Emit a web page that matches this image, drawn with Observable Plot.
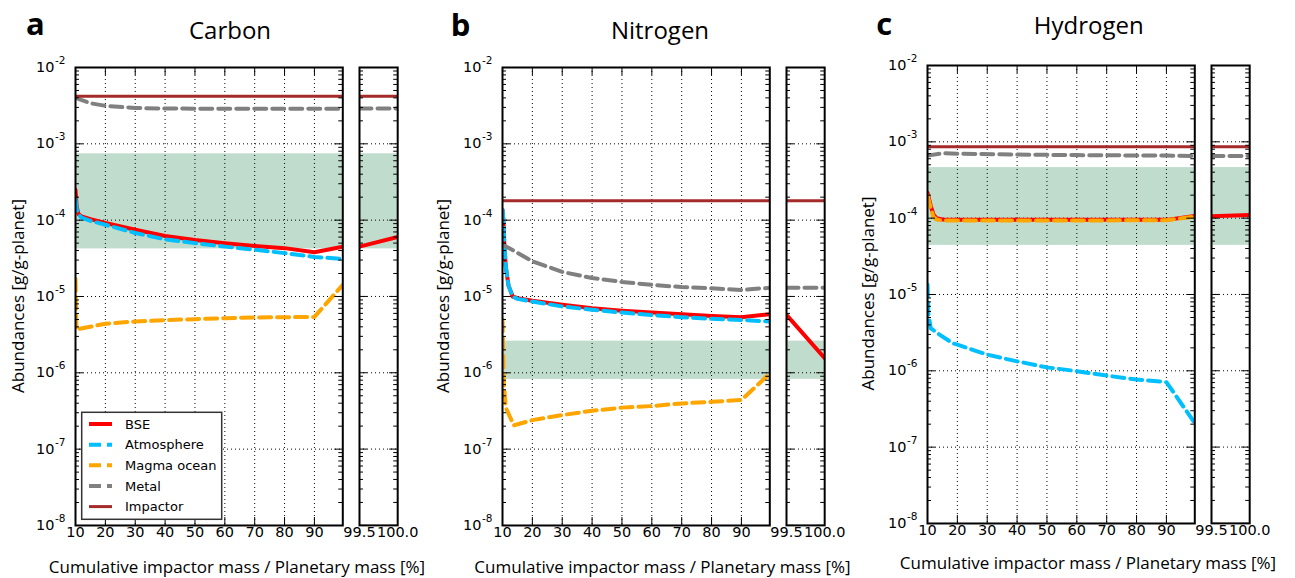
<!DOCTYPE html>
<html><head><meta charset="utf-8">
<script src="https://cdn.jsdelivr.net/npm/d3@7"></script>
<script src="https://cdn.jsdelivr.net/npm/@observablehq/plot@0.6"></script>
<style>
html,body{margin:0;padding:0;background:#fff;}
#root{position:relative;width:1295px;height:578px;overflow:hidden;}
#root svg{position:absolute;overflow:visible;}
</style></head><body><div id="root"></div>
<script>
// ---------- axis values ----------
const decades = [1e-8, 1e-7, 1e-6, 1e-5, 1e-4, 1e-3, 1e-2];
const minorTicks = [];
for (let e = -8; e < -2; e++) for (let m = 2; m <= 9; m++) minorTicks.push(m * Math.pow(10, e));
const mainTicks = [10, 20, 30, 40, 50, 60, 70, 80, 90];
const mainGrid = [20, 30, 40, 50, 60, 70, 80, 90];
const breakTicks = [99.5, 100];
const mainDomain = [10, 99.5];
const breakDomain = [99.5, 100];

// ---------- Carbon ----------
const carbonBSE = [[10,2.5e-4],[10.4,1.5e-4],[11,1.2e-4],[12,1.12e-4],[15,1.03e-4],[20,9.2e-5],[30,7.5e-5],[40,6.2e-5],[50,5.5e-5],[60,5.0e-5],[70,4.6e-5],[80,4.3e-5],[90,3.8e-5],[99.5,4.5e-5]];
const carbonBSEBreak = [[99.5,4.5e-5],[100,6.0e-5]];
const carbonAtmosphere = [[10,1.9e-4],[10.4,1.4e-4],[11,1.2e-4],[12,1.08e-4],[15,9.8e-5],[20,8.7e-5],[30,6.8e-5],[40,5.6e-5],[50,5.0e-5],[60,4.5e-5],[70,4.1e-5],[80,3.7e-5],[90,3.3e-5],[99.5,3.1e-5]];
const carbonMagma = [[10,1.7e-5],[10.3,3.7e-6],[20,4.4e-6],[30,4.7e-6],[40,4.9e-6],[50,5.05e-6],[60,5.2e-6],[70,5.3e-6],[80,5.35e-6],[90,5.4e-6],[99.5,1.42e-5]];
const carbonMetal = [[10,4.0e-3],[15,3.4e-3],[20,3.15e-3],[30,2.95e-3],[40,2.9e-3],[60,2.88e-3],[90,2.88e-3],[99.5,2.88e-3]];
const carbonMetalBreak = [[99.5,2.9e-3],[100,2.9e-3]];
const carbonImpactor = 4.2e-3;
const carbonBand = [4.2e-5, 7.4e-4];

// ---------- Nitrogen ----------
const nitrogenBSE = [[10,1.37e-4],[10.3,1.0e-4],[10.6,5e-5],[11.1,2.45e-5],[12,1.4e-5],[13.4,1.0e-5],[15,9.5e-6],[20,8.8e-6],[30,7.8e-6],[40,7.0e-6],[50,6.5e-6],[60,6.15e-6],[70,5.87e-6],[80,5.56e-6],[90,5.36e-6],[99.5,5.87e-6]];
const nitrogenBSEBreak = [[99.5,5.74e-6],[100,1.55e-6]];
const nitrogenAtmosphere = [[10,1.37e-4],[10.3,1.0e-4],[10.6,5e-5],[11.1,2.45e-5],[12,1.4e-5],[13.4,1.0e-5],[15,9.3e-6],[20,8.6e-6],[30,7.4e-6],[40,6.7e-6],[50,6.15e-6],[60,5.7e-6],[70,5.36e-6],[80,5.1e-6],[90,4.93e-6],[99.5,4.7e-6]];
const nitrogenMagma = [[10,5e-6],[10.4,8e-7],[11.1,3.5e-7],[13.8,2.05e-7],[20,2.4e-7],[30,2.8e-7],[40,3.18e-7],[50,3.5e-7],[60,3.67e-7],[70,3.97e-7],[80,4.17e-7],[90,4.4e-7],[99.5,9.8e-7]];
const nitrogenMetal = [[10,4.8e-5],[20,2.9e-5],[30,2.1e-5],[40,1.75e-5],[50,1.55e-5],[60,1.42e-5],[70,1.33e-5],[80,1.28e-5],[90,1.22e-5],[99.5,1.3e-5]];
const nitrogenMetalBreak = [[99.5,1.3e-5],[100,1.3e-5]];
const nitrogenImpactor = 1.8e-4;
const nitrogenBand = [8.2e-7, 2.6e-6];

// ---------- Hydrogen ----------
const hydrogenBSE = [[10,2.15e-4],[11.1,1.44e-4],[12,1.12e-4],[13,1.0e-4],[15,9.6e-5],[20,9.5e-5],[50,9.5e-5],[90,9.5e-5],[99.5,1.07e-4]];
const hydrogenBSEBreak = [[99.5,1.06e-4],[100,1.1e-4]];
const hydrogenAtmosphere = [[10,1.35e-5],[10.3,5.5e-6],[11.1,3.6e-6],[13.9,3.0e-6],[18.4,2.3e-6],[20,2.2e-6],[30,1.63e-6],[40,1.33e-6],[50,1.11e-6],[60,9.9e-7],[70,8.65e-7],[80,7.7e-7],[90,7.1e-7],[99.5,2.07e-7]];
const hydrogenMagma = [[10,2.0e-4],[11.1,1.35e-4],[12,1.05e-4],[13,9.6e-5],[15,9.3e-5],[20,9.3e-5],[50,9.3e-5],[90,9.4e-5],[99.5,1.05e-4]];
const hydrogenMetal = [[10,6.6e-4],[15,7.1e-4],[20,7.0e-4],[40,6.8e-4],[60,6.7e-4],[90,6.6e-4],[99.5,6.5e-4]];
const hydrogenMetalBreak = [[99.5,6.5e-4],[100,6.5e-4]];
const hydrogenImpactor = 8.6e-4;
const hydrogenBand = [4.4e-5, 4.6e-4];

// ---------- labels ----------
const seriesNames = ["BSE", "Atmosphere", "Magma ocean", "Metal", "Impactor"];
const panelLetters = ["a", "b", "c"];
const panelTitles = ["Carbon", "Nitrogen", "Hydrogen"];
const yLabel = "Abundances [g/g-planet]";
const xLabel = "Cumulative impactor mass / Planetary mass [%]";

// ---------- styles ----------
const C = {bse: "#ff0000", atm: "#00bfff", magma: "#ffa500", metal: "#808080", imp: "#a52a2a"};
const DASH = "12,6";
const TICKFONT = "DejaVu Sans";

const panels = [
  {left: 75, top: 67, bse: carbonBSE, bseB: carbonBSEBreak, atm: carbonAtmosphere, magma: carbonMagma, metal: carbonMetal, metalB: carbonMetalBreak, imp: carbonImpactor, band: carbonBand,
   letter: [26, 35], title: [230, 39.3], ylab: [24, 296], xlab: [237, 572.5]},
  {left: 501.7, top: 67, bse: nitrogenBSE, bseB: nitrogenBSEBreak, atm: nitrogenAtmosphere, magma: nitrogenMagma, metal: nitrogenMetal, metalB: nitrogenMetalBreak, imp: nitrogenImpactor, band: nitrogenBand,
   letter: [450.7, 36], title: [660, 39.3], ylab: [449, 296], xlab: [662.5, 572.5]},
  {left: 926.7, top: 64.5, bse: hydrogenBSE, bseB: hydrogenBSEBreak, atm: hydrogenAtmosphere, magma: hydrogenMagma, metal: hydrogenMetal, metalB: hydrogenMetalBreak, imp: hydrogenImpactor, band: hydrogenBand,
   letter: [876.3, 35], title: [1088.8, 34.3], ylab: [874, 293.5], xlab: [1088, 569]}
];

const W_MAIN = 267.3, W_BREAK = 38.2, GAP = 16.5, H = 458;
const root = document.getElementById("root");

function line(data, stroke, sw, dash) {
  return Plot.line(data, {x: d => d[0], y: d => d[1], stroke, strokeWidth: sw, strokeDasharray: dash, clip: true});
}

function subplot({x0, y0, W, domain, band, imp, lines, main}) {
  const mL = main ? 60 : 12, mR = 10, mT = 14, mB = 30;
  const marks = [
    Plot.rect([band], {x1: () => domain[0], x2: () => domain[1], y1: d => d[0], y2: d => d[1], fill: "#2e8b57", fillOpacity: 0.3}),
    Plot.ruleY(decades.slice(1, -1), {y: d => d, stroke: "black", strokeWidth: 1, strokeDasharray: "1,3"})
  ];
  if (main) marks.push(Plot.ruleX(mainGrid, {x: d => d, stroke: "black", strokeWidth: 1, strokeDasharray: "1,3"}));
  for (const l of lines) marks.push(l);
  marks.push(Plot.ruleY([imp], {y: d => d, stroke: C.imp, strokeWidth: 3}));
  marks.push(Plot.tickY(minorTicks, {y: d => d, insetRight: W - 4, stroke: "black"}));
  marks.push(Plot.tickY(minorTicks, {y: d => d, insetLeft: W - 4, stroke: "black"}));
  marks.push(Plot.tickY(decades, {y: d => d, insetRight: W - 8, stroke: "black"}));
  marks.push(Plot.tickY(decades, {y: d => d, insetLeft: W - 8, stroke: "black"}));
  if (main) {
    marks.push(Plot.tickX(mainTicks, {x: d => d, insetTop: H - 8, stroke: "black"}));
    marks.push(Plot.tickX(mainTicks, {x: d => d, insetBottom: H - 8, stroke: "black"}));
  }
  marks.push(Plot.frame({stroke: "black", strokeWidth: 2}));
  if (main) {
    marks.push(Plot.text(decades, {y: d => d, text: () => "10", frameAnchor: "left", textAnchor: "end", dx: -21, fontSize: 14.5, fontFamily: TICKFONT, fill: "black"}));
    marks.push(Plot.text(decades, {y: d => d, text: d => "-" + Math.round(-Math.log10(d)), frameAnchor: "left", textAnchor: "end", dx: -10, dy: -7, fontSize: 10.5, fontFamily: TICKFONT, fill: "black"}));
    marks.push(Plot.text(mainTicks, {x: d => d, text: d => String(d), frameAnchor: "bottom", dy: 12, fontSize: 14.5, fontFamily: TICKFONT, fill: "black"}));
  } else {
    marks.push(Plot.text(breakTicks, {x: d => d, text: d => d.toFixed(1), frameAnchor: "bottom", dy: 12, fontSize: 14.5, fontFamily: TICKFONT, fill: "black"}));
  }
  const svg = Plot.plot({
    width: mL + W + mR, height: mT + H + mB,
    marginLeft: mL, marginRight: mR, marginTop: mT, marginBottom: mB,
    x: {domain, axis: null},
    y: {type: "log", domain: [1e-8, 1e-2], axis: null},
    style: {fontFamily: TICKFONT, fontSize: "14px", background: "transparent", overflow: "visible", color: "black"},
    marks
  });
  svg.style.position = "absolute";
  svg.style.left = (x0 - mL) + "px";
  svg.style.top = (y0 - mT) + "px";
  root.appendChild(svg);
}

panels.forEach(p => {
  subplot({x0: p.left, y0: p.top, W: W_MAIN, domain: mainDomain, band: p.band, imp: p.imp, main: true,
    lines: [line(p.bse, C.bse, 4), line(p.atm, C.atm, 4, DASH), line(p.magma, C.magma, 4, DASH), line(p.metal, C.metal, 4, DASH)]});
  subplot({x0: p.left + W_MAIN + GAP, y0: p.top, W: W_BREAK, domain: breakDomain, band: p.band, imp: p.imp, main: false,
    lines: [line(p.bseB, C.bse, 4), line(p.metalB, C.metal, 4, DASH)]});
});

// ---------- overlay text + legend ----------
const ov = d3.create("svg").attr("width", 1295).attr("height", 578)
  .style("left", "0px").style("top", "0px").style("pointer-events", "none");
panels.forEach((p, i) => {
  ov.append("text").attr("x", p.letter[0]).attr("y", p.letter[1]).attr("font-family", "Open Sans")
    .attr("font-weight", 700).attr("font-size", 31).text(panelLetters[i]);
  ov.append("text").attr("x", p.title[0]).attr("y", p.title[1]).attr("font-family", "Open Sans")
    .attr("font-size", 24).attr("text-anchor", "middle").text(panelTitles[i]);
  ov.append("text").attr("transform", `translate(${p.ylab[0]},${p.ylab[1]}) rotate(-90)`).attr("font-family", "Open Sans")
    .attr("font-size", 17).attr("text-anchor", "middle").text(yLabel);
  ov.append("text").attr("x", p.xlab[0]).attr("y", p.xlab[1]).attr("font-family", "Open Sans")
    .attr("font-size", 17).attr("text-anchor", "middle").text(xLabel);
});
const lg = ov.append("g");
lg.append("rect").attr("x", 81.7).attr("y", 412.3).attr("width", 140).attr("height", 107)
  .attr("fill", "white").attr("stroke", "#333").attr("stroke-width", 1.5);
const lgStyle = [[C.bse, 4, null], [C.atm, 4, DASH], [C.magma, 4, DASH], [C.metal, 4, DASH], [C.imp, 3, null]];
seriesNames.forEach((name, i) => {
  const cy = 424 + i * 20.65;
  lg.append("line").attr("x1", 89).attr("x2", 112).attr("y1", cy).attr("y2", cy)
    .attr("stroke", lgStyle[i][0]).attr("stroke-width", lgStyle[i][1]).attr("stroke-dasharray", lgStyle[i][2]);
  lg.append("text").attr("x", 125).attr("y", cy + 4.7).attr("font-family", "DejaVu Sans").attr("font-size", 13).text(name);
});
root.appendChild(ov.node());
</script></body></html>
